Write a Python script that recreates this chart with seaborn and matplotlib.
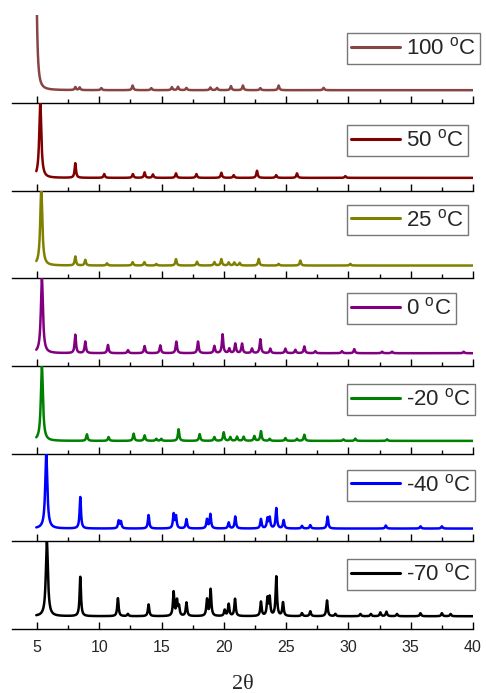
import numpy as np
import pandas as pd
import matplotlib
matplotlib.use("Agg")
import matplotlib.pyplot as plt
from matplotlib.ticker import MultipleLocator
import seaborn as sns

# Temperatures, top panel first
TEMPS = ["100", "50", "25", "0", "-20", "-40", "-70"]
COLORS = ["#884444", "#800000", "#808000", "#800080", "#008000", "#0000ff", "#000000"]

# Peak positions (2theta) and heights relative to the main reflection
POS_100 = [4.90, 8.08, 8.43, 10.17, 12.68, 14.18, 15.83, 16.32, 17.0, 18.92, 19.45,
           20.57, 21.53, 22.93, 24.4, 28.01]
H_100 = [2.0, 0.04, 0.035, 0.027, 0.062, 0.027, 0.04, 0.045, 0.03, 0.036, 0.03,
         0.054, 0.062, 0.027, 0.062, 0.031]

POS_50 = [5.27, 8.08, 10.4, 12.7, 13.64, 14.31, 16.16, 17.8, 19.8, 20.79, 22.66,
          24.2, 25.87, 29.75]
H_50 = [1.0, 0.195, 0.05, 0.05, 0.073, 0.045, 0.06, 0.05, 0.068, 0.036, 0.095,
        0.036, 0.06, 0.023]

POS_25 = [5.35, 8.08, 8.88, 10.62, 12.68, 13.62, 14.58, 16.16, 17.85, 19.24, 19.8,
          20.39, 20.84, 21.27, 22.8, 24.4, 26.14, 30.15]
H_25 = [1.02, 0.12, 0.075, 0.03, 0.045, 0.045, 0.02, 0.085, 0.05, 0.045, 0.085,
        0.04, 0.04, 0.035, 0.088, 0.022, 0.066, 0.022]

POS_0 = [5.40, 8.08, 8.88, 10.70, 12.31, 13.64, 14.9, 16.19, 17.93, 19.24, 19.9,
         20.44, 20.92, 21.46, 22.26, 22.93, 23.73, 24.94, 25.74, 26.46, 27.34,
         29.48, 30.47, 32.7, 33.5, 39.25]
H_0 = [1.0, 0.245, 0.155, 0.11, 0.04, 0.095, 0.104, 0.155, 0.155, 0.095, 0.25,
       0.06, 0.127, 0.127, 0.06, 0.185, 0.06, 0.06, 0.045, 0.09, 0.027,
       0.027, 0.054, 0.02, 0.02, 0.02]

POS_M20 = [5.40, 9.01, 10.75, 12.76, 13.64, 14.58, 14.98, 16.37, 18.06, 19.24,
           19.99, 20.52, 21.06, 21.59, 22.45, 22.98, 23.68, 24.94, 25.87, 26.46,
           29.6, 30.55, 33.1]
H_M20 = [1.0, 0.087, 0.05, 0.096, 0.073, 0.027, 0.027, 0.155, 0.09, 0.05,
         0.114, 0.05, 0.055, 0.055, 0.064, 0.13, 0.027, 0.037, 0.027, 0.082,
         0.02, 0.03, 0.02]

POS_M40 = [5.75, 8.48, 11.56, 11.74, 13.96, 15.97, 16.16, 17.0, 18.65, 18.92,
           20.39, 20.92, 22.98, 23.5, 23.68, 24.21, 24.8, 26.27, 26.94, 28.33,
           33.0, 35.78, 37.5]
H_M40 = [1.0, 0.42, 0.10, 0.09, 0.18, 0.19, 0.16, 0.125, 0.12, 0.19,
         0.08, 0.16, 0.125, 0.13, 0.14, 0.27, 0.11, 0.035, 0.045, 0.16,
         0.04, 0.03, 0.03]

POS_M70 = [5.80, 8.48, 11.5, 12.3, 13.96, 15.97, 16.24, 16.4, 17.0, 18.65, 18.94,
           20.07, 20.39, 20.9, 22.98, 23.5, 23.68, 24.21, 24.75, 26.27, 26.94,
           28.28, 28.95, 30.96, 31.8, 32.56, 33.05, 33.9, 35.78, 37.5, 38.2]
H_M70 = [1.0, 0.525, 0.24, 0.03, 0.157, 0.32, 0.2, 0.12, 0.18, 0.22, 0.355,
         0.08, 0.16, 0.23, 0.19, 0.23, 0.24, 0.525, 0.18, 0.04, 0.065,
         0.21, 0.03, 0.03, 0.03, 0.05, 0.06, 0.03, 0.04, 0.04, 0.03]

PEAKS = [(POS_100, H_100), (POS_50, H_50), (POS_25, H_25), (POS_0, H_0),
         (POS_M20, H_M20), (POS_M40, H_M40), (POS_M70, H_M70)]

# legend top offset below each panel top, in pixels
LEGEND_OFFSET = [18, 22, 14, 15, 18, 16, 18]


def pattern(two_theta, positions, heights):
    y = np.zeros_like(two_theta)
    for p, h in zip(positions, heights):
        w = 0.1 if h >= 0.9 else 0.065
        y += h / (1 + ((two_theta - p) / w) ** 2)
    return y


two_theta = np.arange(4.95, 40.0, 0.01)
frames = []
for temp, (pos, hts) in zip(TEMPS, PEAKS):
    frames.append(pd.DataFrame({"two_theta": two_theta,
                                "intensity": pattern(two_theta, pos, hts),
                                "temp": temp}))
df = pd.concat(frames, ignore_index=True)

sns.set_theme(style="white")
plt.rcParams["font.family"] = ["Liberation Sans", "DejaVu Sans"]
plt.rcParams["mathtext.fontset"] = "custom"
plt.rcParams["mathtext.rm"] = "Liberation Sans"

fig, axes = plt.subplots(7, 1, figsize=(4.86, 6.93), dpi=100, sharex=True)
fig.subplots_adjust(left=0.0247, right=0.9733, bottom=0.0924, top=0.978, hspace=0)
panel_h = (0.978 - 0.0924) * 693 / 7

for i, (ax, temp, color) in enumerate(zip(axes, TEMPS, COLORS)):
    sub = df[df["temp"] == temp]
    sns.lineplot(data=sub, x="two_theta", y="intensity", ax=ax, color=color,
                 lw=1.8, estimator=None, label=f"{temp} $^\\mathrm{{o}}$C")
    ax.set_xlim(3.0, 40.0)
    ax.set_ylim(-0.17, 1.0)
    ax.set_yticks([])
    ax.set_ylabel("")
    ax.set_xlabel("")
    for side in ["top", "left", "right"]:
        ax.spines[side].set_visible(False)
    ax.spines["bottom"].set_color("black")
    ax.spines["bottom"].set_linewidth(1.0)
    ax.xaxis.set_major_locator(MultipleLocator(5))
    ax.xaxis.set_minor_locator(MultipleLocator(2.5))
    ax.tick_params(axis="x", which="major", direction="in", length=5, width=1,
                   color="black", bottom=True, labelsize=11.5, pad=8)
    ax.tick_params(axis="x", which="minor", direction="in", length=3, width=1,
                   color="black", bottom=True)
    ax.patch.set_alpha(0)
    leg = ax.legend(loc="upper left",
                    bbox_to_anchor=((347 - 12) / 461, 1 - LEGEND_OFFSET[i] / panel_h),
                    frameon=True, fancybox=False, fontsize=16, handlelength=2.2,
                    handletextpad=0.25, borderpad=0.2, borderaxespad=0)
    leg.get_frame().set_edgecolor("#555555")
    leg.get_frame().set_linewidth(1.0)
    for line in leg.get_lines():
        line.set_linewidth(2.2)
    if i < len(TEMPS) - 1:
        ax.tick_params(axis="x", labelbottom=False)

axes[-1].set_xlabel("2θ", fontsize=16, family=["Liberation Serif", "DejaVu Serif"],
                    labelpad=14)

fig.savefig("out.png", dpi=100)
